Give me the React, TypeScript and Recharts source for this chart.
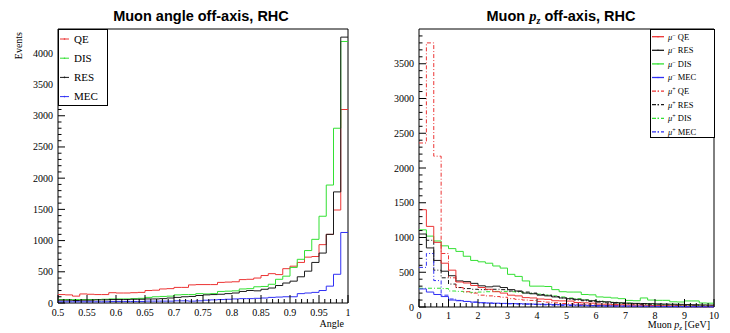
import React from 'react'
import { ComposedChart, Line, XAxis, YAxis, ReferenceArea } from 'recharts'

// bin edges (40 bins each)
const ANGLE_EDGES = [0.5, 0.5125, 0.525, 0.5375, 0.55, 0.5625, 0.575, 0.5875, 0.6, 0.6125, 0.625, 0.6375, 0.65, 0.6625, 0.675, 0.6875, 0.7, 0.7125, 0.725, 0.7375, 0.75, 0.7625, 0.775, 0.7875, 0.8, 0.8125, 0.825, 0.8375, 0.85, 0.8625, 0.875, 0.8875, 0.9, 0.9125, 0.925, 0.9375, 0.95, 0.9625, 0.975, 0.9875, 1]
const PZ_EDGES = [0, 0.25, 0.5, 0.75, 1, 1.25, 1.5, 1.75, 2, 2.25, 2.5, 2.75, 3, 3.25, 3.5, 3.75, 4, 4.25, 4.5, 4.75, 5, 5.25, 5.5, 5.75, 6, 6.25, 6.5, 6.75, 7, 7.25, 7.5, 7.75, 8, 8.25, 8.5, 8.75, 9, 9.25, 9.5, 9.75, 10]

// left: muon angle
const ANGLE_QE = [135, 130, 110, 145, 140, 135, 135, 165, 160, 160, 165, 170, 200, 205, 225, 230, 250, 250, 290, 295, 295, 295, 330, 335, 340, 375, 380, 400, 440, 470, 455, 550, 590, 650, 735, 745, 935, 1100, 1490, 3100]
const ANGLE_DIS = [55, 55, 55, 55, 55, 55, 60, 65, 65, 65, 70, 75, 90, 100, 105, 110, 130, 135, 135, 150, 145, 150, 185, 190, 195, 225, 230, 260, 265, 300, 380, 430, 570, 700, 840, 1020, 1390, 1890, 2800, 4190]
const ANGLE_RES = [45, 45, 40, 45, 45, 50, 50, 55, 55, 55, 60, 60, 65, 65, 70, 80, 90, 100, 105, 120, 130, 135, 140, 150, 160, 185, 200, 195, 220, 240, 280, 320, 350, 420, 510, 650, 800, 1100, 1780, 4260]
const ANGLE_MEC = [20, 20, 20, 20, 20, 20, 20, 25, 25, 25, 25, 25, 30, 30, 30, 30, 35, 35, 30, 35, 45, 50, 55, 60, 65, 70, 70, 75, 80, 90, 95, 100, 100, 150, 160, 170, 200, 270, 460, 1130]

// right: muon pz
const PZ_QE_MINUS = [1400, 1160, 930, 630, 530, 360, 345, 310, 280, 255, 220, 200, 170, 160, 135, 130, 115, 110, 90, 88, 85, 65, 60, 55, 42, 40, 35, 32, 30, 28, 25, 22, 20, 18, 16, 14, 12, 11, 10, 10]
const PZ_RES_MINUS = [1050, 850, 670, 515, 450, 375, 365, 340, 305, 290, 300, 280, 250, 230, 200, 190, 170, 160, 145, 130, 120, 110, 100, 90, 80, 75, 65, 60, 55, 52, 50, 48, 45, 42, 40, 38, 35, 33, 30, 28]
const PZ_DIS_MINUS = [1110, 1020, 950, 880, 840, 800, 730, 670, 650, 630, 590, 560, 470, 440, 375, 300, 300, 295, 250, 220, 215, 215, 180, 175, 145, 140, 130, 120, 95, 90, 130, 100, 96, 96, 75, 72, 87, 87, 58, 55]
const PZ_MEC_MINUS = [260, 215, 180, 150, 100, 90, 80, 70, 62, 58, 55, 52, 50, 48, 45, 42, 40, 38, 35, 32, 30, 28, 25, 22, 20, 18, 16, 15, 14, 12, 11, 10, 9, 8, 8, 7, 6, 6, 5, 5]
const PZ_QE_PLUS = [2360, 3800, 2170, 770, 420, 280, 220, 200, 170, 160, 150, 140, 120, 110, 100, 95, 80, 70, 60, 50, 45, 40, 35, 30, 25, 22, 20, 18, 15, 13, 12, 10, 9, 8, 7, 6, 5, 5, 4, 4]
const PZ_RES_PLUS = [1000, 960, 530, 420, 330, 280, 265, 255, 250, 250, 255, 250, 230, 225, 215, 200, 180, 170, 150, 130, 110, 100, 90, 80, 70, 60, 55, 50, 45, 40, 35, 32, 30, 28, 25, 22, 20, 18, 16, 15]
const PZ_DIS_PLUS = [270, 270, 270, 265, 230, 225, 215, 210, 215, 220, 225, 225, 220, 215, 205, 195, 185, 170, 160, 145, 130, 120, 105, 95, 85, 75, 68, 60, 55, 50, 45, 40, 36, 32, 30, 27, 24, 22, 20, 18]
const PZ_MEC_PLUS = [570, 770, 380, 170, 115, 95, 80, 70, 60, 55, 50, 48, 45, 42, 40, 36, 33, 30, 27, 24, 21, 19, 17, 15, 13, 12, 10, 9, 8, 7, 6, 6, 5, 5, 4, 4, 3, 3, 3, 2]

// tick labels
const ANGLE_TICKS = [0.5, 0.55, 0.6, 0.65, 0.7, 0.75, 0.8, 0.85, 0.9, 0.95, 1]
const ANGLE_Y_TICKS = [0, 500, 1000, 1500, 2000, 2500, 3000, 3500, 4000]
const PZ_TICKS = [0, 1, 2, 3, 4, 5, 6, 7, 8, 9, 10]
const PZ_Y_TICKS = [0, 500, 1000, 1500, 2000, 2500, 3000, 3500]

const RED = '#ec3434'
const GREEN = '#33e033'
const BLUE = '#3030f4'
const BLACK = '#1a1a1a'
const SERIF = '"Liberation Serif", "DejaVu Serif", serif'
const SANS = '"Liberation Sans", Arial, sans-serif'
const DASH = '4 2 1 2'

// one row per bin edge; last edge repeats the last bin so the step closes
function toSteps(edges: number[], series: Record<string, number[]>) {
  return edges.map((x, i) => {
    const row: Record<string, number> = { x }
    Object.keys(series).forEach(k => {
      const v = series[k]
      row[k] = v[Math.min(i, v.length - 1)]
    })
    return row
  })
}

function withMinors(lo: number, hi: number, step: number) {
  const out: number[] = []
  const n = Math.round((hi - lo) / step)
  for (let i = 0; i <= n; i++) out.push(+(lo + i * step).toFixed(6))
  return out
}

const isMajor = (majors: number[], v: number) => majors.some(m => Math.abs(m - v) < 1e-6)

function XTick(props: any) {
  const { x, y, payload, majors, dy } = props
  const major = isMajor(majors, payload.value)
  return (
    <g>
      <line x1={x} x2={x} y1={y} y2={y - (major ? 8 : 4)} stroke="#000" strokeWidth={1} />
      {major && (
        <text x={x} y={y + dy} textAnchor="middle" fontSize={10} fontFamily={SERIF} fill="#000">
          {String(payload.value)}
        </text>
      )}
    </g>
  )
}

function YTick(props: any) {
  const { x, y, payload, majors } = props
  const major = isMajor(majors, payload.value)
  return (
    <g>
      <line x1={x} x2={x + (major ? 7 : 3.5)} y1={y} y2={y} stroke="#000" strokeWidth={1} />
      {major && (
        <text x={x - 5} y={y} dy="0.35em" textAnchor="end" fontSize={10} fontFamily={SERIF} fill="#000">
          {String(payload.value)}
        </text>
      )}
    </g>
  )
}

const angleData = toSteps(ANGLE_EDGES, { qe: ANGLE_QE, dis: ANGLE_DIS, res: ANGLE_RES, mec: ANGLE_MEC })
const pzData = toSteps(PZ_EDGES, {
  qeM: PZ_QE_MINUS, resM: PZ_RES_MINUS, disM: PZ_DIS_MINUS, mecM: PZ_MEC_MINUS,
  qeP: PZ_QE_PLUS, resP: PZ_RES_PLUS, disP: PZ_DIS_PLUS, mecP: PZ_MEC_PLUS,
})

const ANGLE_YMAX = 4390
const PZ_YMAX = 4000

const leftLegend = [
  { label: 'QE', color: RED },
  { label: 'DIS', color: GREEN },
  { label: 'RES', color: BLACK },
  { label: 'MEC', color: BLUE },
]
const rightLegend = [
  { sign: '−', label: 'QE', color: RED, dash: undefined },
  { sign: '−', label: 'RES', color: BLACK, dash: undefined },
  { sign: '−', label: 'DIS', color: GREEN, dash: undefined },
  { sign: '−', label: 'MEC', color: BLUE, dash: undefined },
  { sign: '+', label: 'QE', color: RED, dash: DASH },
  { sign: '+', label: 'RES', color: BLACK, dash: DASH },
  { sign: '+', label: 'DIS', color: GREEN, dash: DASH },
  { sign: '+', label: 'MEC', color: BLUE, dash: DASH },
]

export default function App() {
  return (
    <div style={{ position: 'absolute', left: 0, top: 0, width: 730, height: 333, background: '#fff' }}>
      {/* Muon angle */}
      <div style={{ position: 'absolute', left: 0, top: 0 }}>
        <ComposedChart width={365} height={333} data={angleData} margin={{ top: 29, right: 17, bottom: 0, left: 8 }}>
          <XAxis dataKey="x" type="number" domain={[0.5, 1]} ticks={withMinors(0.5, 1, 0.01)} interval={0}
            tickSize={0} tickMargin={0} axisLine={false} height={30} tick={(p: any) => <XTick {...p} majors={ANGLE_TICKS} dy={12.5} />} />
          <YAxis type="number" domain={[0, ANGLE_YMAX]} ticks={withMinors(0, 4300, 100)} interval={0}
            tickSize={0} tickMargin={0} axisLine={false} width={50} tick={(p: any) => <YTick {...p} majors={ANGLE_Y_TICKS} />} />
          <ReferenceArea x1={0.5} x2={1} y1={0} y2={ANGLE_YMAX} fill="none" stroke="#000" strokeWidth={1} />
          <Line type="stepAfter" dataKey="qe" stroke={RED} strokeWidth={1} dot={false} isAnimationActive={false} />
          <Line type="stepAfter" dataKey="dis" stroke={GREEN} strokeWidth={1} dot={false} isAnimationActive={false} />
          <Line type="stepAfter" dataKey="res" stroke={BLACK} strokeWidth={1} dot={false} isAnimationActive={false} />
          <Line type="stepAfter" dataKey="mec" stroke={BLUE} strokeWidth={1} dot={false} isAnimationActive={false} />
        </ComposedChart>
      </div>

      {/* Muon pz */}
      <div style={{ position: 'absolute', left: 365, top: 0 }}>
        <ComposedChart width={365} height={333} data={pzData} margin={{ top: 29, right: 16, bottom: 0, left: 4 }}>
          <XAxis dataKey="x" type="number" domain={[0, 10]} ticks={withMinors(0, 10, 0.2)} interval={0}
            tickSize={0} tickMargin={0} axisLine={false} height={26} tick={(p: any) => <XTick {...p} majors={PZ_TICKS} dy={11.5} />} />
          <YAxis type="number" domain={[0, PZ_YMAX]} ticks={withMinors(0, 3900, 100)} interval={0}
            tickSize={0} tickMargin={0} axisLine={false} width={50} tick={(p: any) => <YTick {...p} majors={PZ_Y_TICKS} />} />
          <ReferenceArea x1={0} x2={10} y1={0} y2={PZ_YMAX} fill="none" stroke="#000" strokeWidth={1} />
          <Line type="stepAfter" dataKey="disM" stroke={GREEN} strokeWidth={1} dot={false} isAnimationActive={false} />
          <Line type="stepAfter" dataKey="disP" stroke={GREEN} strokeWidth={1} strokeDasharray={DASH} dot={false} isAnimationActive={false} />
          <Line type="stepAfter" dataKey="resP" stroke={BLACK} strokeWidth={1} strokeDasharray={DASH} dot={false} isAnimationActive={false} />
          <Line type="stepAfter" dataKey="mecP" stroke={BLUE} strokeWidth={1} strokeDasharray={DASH} dot={false} isAnimationActive={false} />
          <Line type="stepAfter" dataKey="qeP" stroke={RED} strokeWidth={1} strokeDasharray={DASH} dot={false} isAnimationActive={false} />
          <Line type="stepAfter" dataKey="resM" stroke={BLACK} strokeWidth={1} dot={false} isAnimationActive={false} />
          <Line type="stepAfter" dataKey="qeM" stroke={RED} strokeWidth={1} dot={false} isAnimationActive={false} />
          <Line type="stepAfter" dataKey="mecM" stroke={BLUE} strokeWidth={1} dot={false} isAnimationActive={false} />
        </ComposedChart>
      </div>

      {/* titles, axis titles, legends */}
      <svg width={730} height={333} style={{ position: 'absolute', left: 0, top: 0, pointerEvents: 'none' }}>
        <text x={201} y={21} textAnchor="middle" fontFamily={SANS} fontWeight="bold" fontSize={14.5}>
          Muon angle off-axis, RHC
        </text>
        <text x={561} y={21} textAnchor="middle" fontFamily={SANS} fontWeight="bold" fontSize={14.5}>
          Muon <tspan fontFamily={SERIF} fontStyle="italic">p</tspan>
          <tspan fontFamily={SERIF} fontStyle="italic" fontSize={10} dy={3}>z</tspan>
          <tspan dy={-3}> off-axis, RHC</tspan>
        </text>

        <text transform="translate(22,32) rotate(-90)" textAnchor="end" fontFamily={SERIF} fontSize={10}>Events</text>
        <text x={344} y={327} textAnchor="end" fontFamily={SERIF} fontSize={10}>Angle</text>
        <text x={710} y={328} textAnchor="end" fontFamily={SERIF} fontSize={10}>
          Muon <tspan fontStyle="italic">p</tspan>
          <tspan fontStyle="italic" fontSize={7} dy={2}>z</tspan>
          <tspan dy={-2}> [GeV]</tspan>
        </text>

        <rect x={58.5} y={29.5} width={49} height={76} fill="#fff" stroke="#000" strokeWidth={1} />
        {leftLegend.map((e, i) => {
          const cy = 39 + i * 19.2
          return (
            <g key={e.label}>
              <line x1={60} x2={69} y1={cy} y2={cy} stroke={e.color} strokeWidth={1} />
              <circle cx={64.5} cy={cy} r={0.8} fill={e.color} />
              <text x={74} y={cy} dy="0.35em" fontFamily={SERIF} fontSize={11}>{e.label}</text>
            </g>
          )
        })}

        <rect x={650.5} y={29.5} width={64} height={108} fill="#fff" stroke="#000" strokeWidth={1} />
        {rightLegend.map((e, i) => {
          const cy = 36.7 + i * 13.6
          return (
            <g key={e.sign + e.label}>
              <line x1={652} x2={664} y1={cy} y2={cy} stroke={e.color} strokeWidth={1.3} strokeDasharray={e.dash} />
              <circle cx={658} cy={cy} r={0.7} fill={e.color} />
              <text x={668} y={cy} dy="0.35em" fontFamily={SERIF} fontSize={8.5}>
                <tspan fontStyle="italic">μ</tspan>
                <tspan fontSize={6} dy={-3}>{e.sign}</tspan>
                <tspan dy={3}> {e.label}</tspan>
              </text>
            </g>
          )
        })}
      </svg>
    </div>
  )
}
